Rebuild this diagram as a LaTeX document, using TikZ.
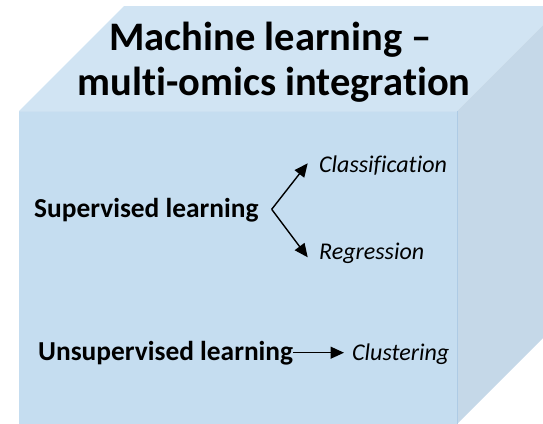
\documentclass[tikz,border=0pt]{standalone}
\usepackage{fontspec}
\setmainfont{Carlito}[Ligatures={NoCommon,NoContextual}]
\usetikzlibrary{arrows.meta}
\definecolor{frontc}{HTML}{C5DDF0}
\definecolor{topc}{HTML}{D1E4F3}
\definecolor{sidec}{HTML}{C5D8E8}
\definecolor{edgec}{HTML}{AECBE5}
\tikzset{
  titletext/.style={inner sep=0pt, anchor=base, font=\fontsize{40.5}{45}\selectfont\bfseries},
  maintext/.style={inner sep=0pt, anchor=base west, font=\fontsize{27.4}{32}\selectfont\bfseries},
  subtext/.style={inner sep=0pt, anchor=base west, font=\fontsize{24}{29}\selectfont\itshape},
  arr/.style={line width=1.4pt, -{Triangle[length=13.5pt,width=12pt]}},
  face/.style={draw=edgec, line width=0.6pt}
}
\begin{document}
\begin{tikzpicture}[x=1pt,y=-1pt]
\useasboundingbox (0,0) rectangle (543,423);
\begin{scope}
\clip (0,0) rectangle (543,423);
% top face
\fill[topc] (19,111) -- (124,6) -- (562,6) -- (457,111) -- cycle;
% side face
\fill[sidec] (457,111) -- (562,6) -- (562,319) -- (457,424) -- cycle;
% front face
\fill[frontc] (19,111) rectangle (457,430);
\draw[edgec, line width=0.6pt] (457,111) -- (457,430);
\draw[draw=topc!85!edgec, line width=0.6pt] (19,111) -- (457,111);
\end{scope}
% title
\node[titletext] (t1) at (270.5,50) {Machine learning –};
\node[titletext] (t2) at (274,95) {multi-omics integration};
% texts
\node[maintext] (sup) at (34,217) {Supervised learning};
\node[subtext] (cls) at (319,172) {Classification};
\node[subtext] (reg) at (319,259) {Regression};
\node[maintext] (uns) at (38,360) {Unsupervised learning};
\node[subtext] (clu) at (352,360) {Clustering};
% connectors
\coordinate (fork) at (271.7,209.3);
\coordinate (tipC) at (307.7,163.3);
\coordinate (tipR) at (307.7,257.3);
\coordinate (ustart) at (293,352.7);
\coordinate (tipU) at (344,352.7);
\draw[arr] (fork) -- (tipC);
\draw[arr] (fork) -- (tipR);
\draw[arr] (ustart) -- (tipU);
\end{tikzpicture}
\end{document}
